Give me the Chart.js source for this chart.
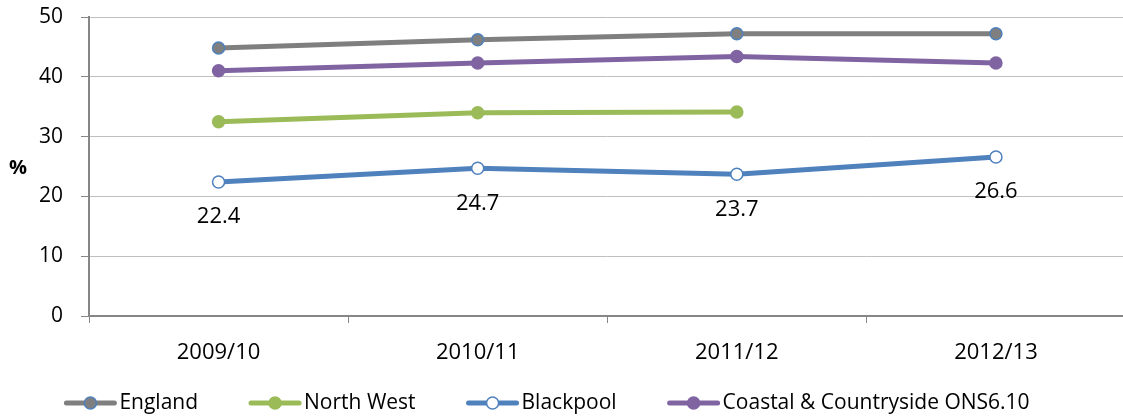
<!DOCTYPE html>
<html>
<head>
<meta charset="utf-8">
<script src="https://cdn.jsdelivr.net/npm/chart.js@4.4.1/dist/chart.umd.min.js"></script>
<style>
html,body{margin:0;padding:0;background:#fff;overflow:hidden;}
#wrap{width:1133px;height:418px;position:relative;}
canvas{display:block;}
</style>
</head>
<body>
<div id="wrap"><canvas id="c"></canvas></div>
<script>
const categories = ["2009/10", "2010/11", "2011/12", "2012/13"];
const england = [44.8, 46.2, 47.2, 47.2];
const northWest = [32.5, 34.0, 34.1, null];
const blackpool = [22.4, 24.7, 23.7, 26.6];
const coastal = [41.0, 42.3, 43.4, 42.3];
const yTicks = [0, 10, 20, 30, 40, 50];
const seriesNames = ["England", "North West", "Blackpool", "Coastal & Countryside ONS6.10"];

const FONT = "'Open Sans', 'Liberation Sans', sans-serif";
const GRAY = '#7f7f7f', BLUE = '#4f81bd', GREEN = '#9bbb59', PURPLE = '#8064a2';
const styles = [
  { line: GRAY, fill: GRAY, border: BLUE },
  { line: GREEN, fill: GREEN, border: GREEN },
  { line: BLUE, fill: '#ffffff', border: BLUE },
  { line: PURPLE, fill: PURPLE, border: PURPLE }
];

const labelPlugin = {
  id: 'bpLabels',
  afterDatasetsDraw(chart) {
    const ctx = chart.ctx;
    const meta = chart.getDatasetMeta(2);
    ctx.save();
    ctx.font = "22px " + FONT;
    ctx.fillStyle = '#000';
    ctx.textAlign = 'center';
    ctx.textBaseline = 'middle';
    meta.data.forEach((pt, i) => {
      ctx.fillText(blackpool[i].toFixed(1), pt.x, pt.y + 35);
    });
    ctx.restore();
  }
};

const extrasPlugin = {
  id: 'extras',
  afterDraw(chart) {
    const ctx = chart.ctx;
    ctx.save();
    // y-axis unit title
    ctx.font = "bold 20px " + FONT;
    ctx.fillStyle = '#000';
    ctx.textAlign = 'center';
    ctx.textBaseline = 'middle';
    ctx.fillText('%', 18, 168);
    // legend
    ctx.font = "21px " + FONT;
    const lineW = 52, textGap = 3, itemGap = 51;
    const widths = seriesNames.map(n => ctx.measureText(n).width);
    const total = widths.reduce((a, b) => a + b, 0) + seriesNames.length * (lineW + textGap) + (seriesNames.length - 1) * itemGap;
    let x = 547 - total / 2;
    const y = 403;
    seriesNames.forEach((name, i) => {
      const s = styles[i];
      ctx.strokeStyle = s.line; ctx.lineWidth = 5; ctx.lineCap = 'round';
      ctx.beginPath(); ctx.moveTo(x + 2, y); ctx.lineTo(x + lineW - 2, y); ctx.stroke();
      ctx.beginPath(); ctx.arc(x + lineW / 2, y, 6, 0, Math.PI * 2);
      ctx.fillStyle = s.fill; ctx.fill();
      ctx.lineWidth = 1.5; ctx.strokeStyle = s.border; ctx.stroke();
      ctx.fillStyle = '#000';
      ctx.textAlign = 'left';
      ctx.fillText(name, x + lineW + textGap, y);
      x += lineW + textGap + widths[i] + itemGap;
    });
    ctx.restore();
  }
};

const ds = (i, data) => ({
  label: seriesNames[i], data,
  borderColor: styles[i].line, backgroundColor: styles[i].line,
  borderWidth: 5,
  pointRadius: 6, pointHoverRadius: 6,
  pointBackgroundColor: styles[i].fill, pointBorderColor: styles[i].border, pointBorderWidth: 1.5,
  tension: 0, spanGaps: false
});

new Chart(document.getElementById('c'), {
  type: 'line',
  data: {
    labels: categories,
    datasets: [ds(0, england), ds(1, northWest), ds(2, blackpool), ds(3, coastal)]
  },
  options: {
    responsive: true,
    maintainAspectRatio: false,
    animation: false,
    layout: { padding: { top: 17, right: 0, bottom: 0, left: 0 } },
    plugins: {
      tooltip: { enabled: false },
      legend: { display: false }
    },
    scales: {
      x: {
        type: 'category',
        offset: true,
        grid: { display: true, drawOnChartArea: false, offset: true, tickLength: 7, color: '#868686', lineWidth: 1 },
        border: { display: true, color: '#868686', width: 2 },
        ticks: { color: '#000', font: { family: FONT, size: 22 }, padding: 17, maxRotation: 0 },
        afterFit(s) { s.height = 102; s.paddingLeft = 0; s.paddingRight = 0; }
      },
      y: {
        min: 0, max: 50,
        afterBuildTicks(s) { s.ticks = yTicks.map(v => ({ value: v })); },
        grid: { color: '#bfbfbf', lineWidth: 1, borderDash: [6, 4], tickLength: 8, tickColor: '#868686', tickBorderDash: [] },
        border: { display: true, color: '#868686', width: 2 },
        ticks: { color: '#000', font: { family: FONT, size: 21 }, padding: 18 },
        afterFit(s) { s.width = 89; s.paddingTop = 0; s.paddingBottom = 0; }
      }
    }
  },
  plugins: [labelPlugin, extrasPlugin]
});
</script>
</body>
</html>
